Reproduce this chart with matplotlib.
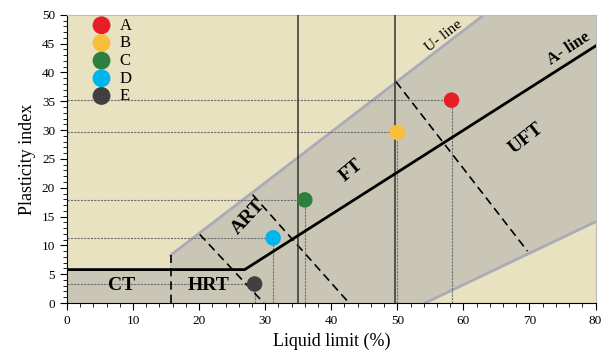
import matplotlib.pyplot as plt
from matplotlib.ticker import MultipleLocator

plt.rcParams['font.family'] = ['Liberation Serif', 'DejaVu Serif']

# sample points (liquid limit, plasticity index)
names = ['A', 'B', 'C', 'D', 'E']
ll = [58.2, 50.0, 36.0, 31.2, 28.4]
pi = [35.2, 29.6, 17.9, 11.3, 3.3]
colors = ['#E81E27', '#F8BE3C', '#2D7F3F', '#00B5EE', '#404040']

# chart boundaries
a_line_x = [0, 26.9, 80]
a_line_y = [5.8, 5.8, 44.6]
u_line_x = [15.7, 63.1]
u_line_y = [8.3, 50]
low_line_x = [54.2, 80]
low_line_y = [0, 14.1]
zone_x = [0, 0, 15.7, 15.7, 63.1, 80, 80, 54.2]
zone_y = [0, 5.8, 5.8, 8.3, 50, 50, 14.1, 0]
dash_lines = [([15.7, 15.7], [0, 8.3]),
              ([20.1, 29.8], [11.9, 0]),
              ([28.1, 42.7], [18.8, 0]),
              ([49.8, 69.7], [38.4, 9.0])]
vlines = [35.0, 49.7]

cream = '#E8E2C1'
grey = '#C9C6B5'

fig = plt.figure(figsize=(6.14, 3.54), dpi=100)
ax = fig.add_axes([0.109, 0.144, 0.861, 0.814])
ax.set_facecolor(cream)

ax.fill(zone_x, zone_y, color=grey, zorder=1)
ax.plot(u_line_x, u_line_y, color='#ABAAB8', lw=2, zorder=2)
ax.plot(low_line_x, low_line_y, color='#ABAAB8', lw=2, zorder=2)

for xs, ys in dash_lines:
    ax.plot(xs, ys, color='black', lw=1.2, ls=(0, (5, 3)), zorder=3)
for v in vlines:
    ax.plot([v, v], [0, 50], color='#333333', lw=1.1, zorder=3)

# projection lines from each point
for x, y in zip(ll, pi):
    ax.plot([0, x], [y, y], color='#6E6E6E', lw=0.8, ls=(0, (2, 1)), zorder=2)
    ax.plot([x, x], [0, y], color='#6E6E6E', lw=0.8, ls=(0, (2, 1)), zorder=2)

ax.plot(a_line_x, a_line_y, color='black', lw=2, zorder=4)

for n, x, y, c in zip(names, ll, pi, colors):
    ax.scatter(x, y, s=125, color=c, zorder=5, label=n, edgecolors='none')

bold = dict(fontweight='bold', fontsize=14, ha='center', va='center', zorder=6)
ax.text(8.3, 3.0, 'CT', **bold)
ax.text(21.5, 3.0, 'HRT', **bold)
ax.text(27.5, 15.0, 'ART', rotation=47, **bold)
ax.text(43.0, 23.0, 'FT', rotation=40, **bold)
ax.text(69.5, 28.5, 'UFT', rotation=38, **bold)
ax.text(76.0, 44.2, 'A- line', rotation=33, fontsize=12, fontweight='bold',
        ha='center', va='center', zorder=6)
ax.text(57.0, 46.3, 'U- line', rotation=38, fontsize=11, ha='center', va='center', zorder=6)

leg = ax.legend(loc='upper left', bbox_to_anchor=(0.015, 1.025), frameon=False,
                fontsize=12, handletextpad=0.1, labelspacing=0.1,
                borderaxespad=0.2, markerscale=1.15)

ax.set_xlim(0, 80)
ax.set_ylim(0, 50)
ax.xaxis.set_major_locator(MultipleLocator(10))
ax.xaxis.set_minor_locator(MultipleLocator(2))
ax.yaxis.set_major_locator(MultipleLocator(5))
ax.yaxis.set_minor_locator(MultipleLocator(1))
ax.tick_params(which='major', direction='out', length=5, labelsize=9.5)
ax.tick_params(which='minor', direction='out', length=3)
for s in ['top', 'right']:
    ax.spines[s].set_color('#BBBBBB')
ax.set_xlabel('Liquid limit (%)', fontsize=13)
ax.set_ylabel('Plasticity index', fontsize=13)

fig.savefig('out.png', dpi=100)
